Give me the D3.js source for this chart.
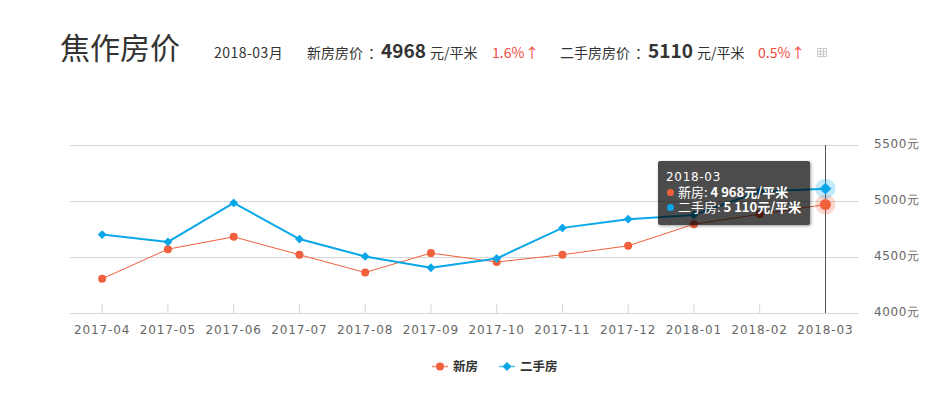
<!DOCTYPE html>
<html>
<head>
<meta charset="utf-8">
<script src="https://cdn.jsdelivr.net/npm/d3@7"></script>
<style>
  html, body { margin: 0; padding: 0; background: #fff; }
  svg { display: block; }
</style>
</head>
<body>
<div id="chart"></div>
<script>
const months = ["2017-04", "2017-05", "2017-06", "2017-07", "2017-08", "2017-09", "2017-10", "2017-11", "2017-12", "2018-01", "2018-02", "2018-03"]
const newHome = [4306, 4570, 4680, 4520, 4362, 4535, 4455, 4520, 4600, 4793, 4882, 4968]
const resale = [4700, 4635, 4983, 4660, 4505, 4404, 4487, 4760, 4838, 4876, 5085, 5110]
const yTicks = [4000, 4500, 5000, 5500]
const seriesNames = ["新房", "二手房"]
const cjk = "'Noto Sans CJK SC', 'Noto Sans', sans-serif"
const latin = "'DejaVu Sans', sans-serif"

const dimensions = { width: 949, height: 400, margin: { top: 145, right: 90, bottom: 87, left: 70 } }
dimensions.boundedWidth = dimensions.width - dimensions.margin.left - dimensions.margin.right
dimensions.boundedHeight = dimensions.height - dimensions.margin.top - dimensions.margin.bottom

const svg = d3.select("#chart").append("svg")
    .attr("width", dimensions.width)
    .attr("height", dimensions.height)

/* Header */
const header = svg.append("g").attr("font-family", cjk).attr("fill", "#333")
const headerText = (x, y, size, text, weight, fill) => header.append("text")
    .attr("x", x).attr("y", y)
    .attr("font-size", size)
    .attr("font-weight", weight || 400)
    .attr("fill", fill || "#333")
    .text(text)

headerText(60, 59, 30, "焦作房价")
headerText(214, 58, 14, "2018-03月").attr("letter-spacing", 0.45)
headerText(307, 58, 14, "新房房价")
headerText(368, 58, 14, "：")
headerText(381, 58, 19, newHome[11], 700)
headerText(430, 58, 14, "元/平米")
headerText(492, 58, 14, "1.6%", 400, "#f0493e")
headerText(525, 58, 14, "↑", 400, "#f0493e")
headerText(560, 58, 14, "二手房房价")
headerText(635, 58, 14, "：")
headerText(648, 58, 19, resale[11], 700)
headerText(697, 58, 14, "元/平米")
headerText(758, 58, 14, "0.5%", 400, "#f0493e")
headerText(791, 58, 14, "↑", 400, "#f0493e")

const icon = header.append("g").attr("transform", "translate(817.5, 48.5)")
    .attr("fill", "none").attr("stroke", "#ccc")
icon.append("rect").attr("width", 9).attr("height", 8)
icon.append("path").attr("d", "M0 3H9M0 5.5H9M3 0V8M6 0V8")

/* Scales */
const bounds = svg.append("g")
    .attr("transform", `translate(${dimensions.margin.left}, ${dimensions.margin.top})`)

const xScale = d3.scaleBand()
    .domain(months)
    .range([-0.7, dimensions.boundedWidth - 0.7])

const yScale = d3.scaleLinear()
    .domain([4000, 5500])
    .range([dimensions.boundedHeight, 0])

const xCenter = d => xScale(d) + xScale.bandwidth() / 2

/* Grid and axes */
bounds.append("g").selectAll("line")
    .data(yTicks)
    .enter().append("line")
    .attr("x1", 0)
    .attr("x2", dimensions.boundedWidth)
    .attr("y1", d => Math.round(yScale(d)) + 0.5)
    .attr("y2", d => Math.round(yScale(d)) + 0.5)
    .attr("stroke", "#d8d8d8")

const xAxis = bounds.append("g")
    .attr("transform", `translate(0, ${dimensions.boundedHeight + 0.5})`)
    .call(d3.axisTop(xScale).tickSize(10).tickPadding(0).tickFormat(""))
xAxis.select(".domain").remove()
xAxis.selectAll("line").attr("stroke", "#d8d8d8")

bounds.append("g").selectAll("text")
    .data(months)
    .enter().append("text")
    .attr("x", xCenter)
    .attr("y", dimensions.boundedHeight + 21)
    .attr("text-anchor", "middle")
    .attr("font-family", latin)
    .attr("font-size", 12)
    .attr("letter-spacing", 0.9)
    .attr("fill", "#666")
    .text(d => d)

bounds.append("g").selectAll("text")
    .data(yTicks)
    .enter().append("text")
    .attr("x", dimensions.boundedWidth + 15)
    .attr("y", d => yScale(d) + 3)
    .attr("font-family", latin)
    .attr("font-size", 12)
    .attr("letter-spacing", 0.6)
    .attr("fill", "#666")
    .text(d => d + "元")

/* Crosshair */
bounds.append("line")
    .attr("x1", Math.round(xCenter(months[11])) + 0.5)
    .attr("x2", Math.round(xCenter(months[11])) + 0.5)
    .attr("y1", 0)
    .attr("y2", dimensions.boundedHeight)
    .attr("stroke", "#555")

/* Lines */
const newColor = "#f0603c"
const resaleColor = "#0aa7e8"
const lineFor = values => d3.line()
    .x((d, i) => xCenter(months[i]))
    .y(d => yScale(d))(values)

bounds.append("path")
    .attr("d", lineFor(newHome))
    .attr("fill", "none")
    .attr("stroke", newColor)
    .attr("stroke-width", 1)

bounds.append("path")
    .attr("d", lineFor(resale))
    .attr("fill", "none")
    .attr("stroke", resaleColor)
    .attr("stroke-width", 2)

const diamond = d3.symbol().type(d3.symbolDiamond2)

bounds.append("g").selectAll("circle")
    .data(newHome.slice(0, 11))
    .enter().append("circle")
    .attr("cx", (d, i) => xCenter(months[i]))
    .attr("cy", d => yScale(d))
    .attr("r", 4)
    .attr("fill", newColor)

bounds.append("g").selectAll("path")
    .data(resale.slice(0, 11))
    .enter().append("path")
    .attr("d", diamond.size(50))
    .attr("transform", (d, i) => `translate(${xCenter(months[i])}, ${yScale(d)})`)
    .attr("fill", resaleColor)

/* Highlighted last points */
const lastX = xCenter(months[11])
bounds.append("circle")
    .attr("cx", lastX).attr("cy", yScale(newHome[11]))
    .attr("r", 10).attr("fill", newColor).attr("opacity", 0.25)
bounds.append("circle")
    .attr("cx", lastX).attr("cy", yScale(newHome[11]))
    .attr("r", 5.5).attr("fill", newColor)
bounds.append("circle")
    .attr("cx", lastX).attr("cy", yScale(resale[11]))
    .attr("r", 10).attr("fill", resaleColor).attr("opacity", 0.25)
bounds.append("path")
    .attr("d", diamond.size(90))
    .attr("transform", `translate(${lastX}, ${yScale(resale[11])})`)
    .attr("fill", resaleColor)

/* Legend */
const legend = svg.append("g").attr("font-family", cjk).attr("font-size", 12.5).attr("font-weight", 700).attr("fill", "#333")
legend.append("line").attr("x1", 432).attr("x2", 448).attr("y1", 366.5).attr("y2", 366.5)
    .attr("stroke", newColor).attr("stroke-opacity", 0.7).attr("stroke-width", 1.5)
legend.append("circle").attr("cx", 440).attr("cy", 366.5).attr("r", 4).attr("fill", newColor)
legend.append("text").attr("x", 453).attr("y", 371).text(seriesNames[0])
legend.append("line").attr("x1", 499).attr("x2", 515).attr("y1", 366.5).attr("y2", 366.5)
    .attr("stroke", resaleColor).attr("stroke-opacity", 0.7).attr("stroke-width", 1.5)
legend.append("path").attr("d", diamond.size(50)).attr("transform", "translate(507, 366.5)").attr("fill", resaleColor)
legend.append("text").attr("x", 520).attr("y", 371).text(seriesNames[1])

/* Tooltip, the shadow is cut out under the box so the see-through fill stays light */
const defs = svg.append("defs")
const shadow = defs.append("filter").attr("id", "tipShadow")
    .attr("x", "-10%").attr("y", "-10%").attr("width", "120%").attr("height", "120%")
shadow.append("feGaussianBlur").attr("in", "SourceAlpha").attr("stdDeviation", 1.5).attr("result", "blur")
shadow.append("feOffset").attr("in", "blur").attr("dx", 1).attr("dy", 1).attr("result", "moved")
shadow.append("feFlood").attr("flood-color", "#000").attr("flood-opacity", 0.4).attr("result", "tint")
shadow.append("feComposite").attr("in", "tint").attr("in2", "moved").attr("operator", "in").attr("result", "soft")
shadow.append("feComposite").attr("in", "soft").attr("in2", "SourceAlpha").attr("operator", "out")

const tip = svg.append("g").attr("transform", "translate(658, 161)")
tip.append("rect")
    .attr("width", 152)
    .attr("height", 64)
    .attr("rx", 2)
    .attr("fill", "#000")
    .attr("filter", "url(#tipShadow)")
tip.append("rect")
    .attr("width", 152)
    .attr("height", 64)
    .attr("rx", 2)
    .attr("fill", "rgba(0, 0, 0, 0.7)")
tip.append("text").attr("x", 8).attr("y", 20)
    .attr("font-family", latin).attr("font-size", 12).attr("letter-spacing", 0.7)
    .attr("fill", "#fff").text(months[11])

const thousands = d => String(d).replace(/(\d)(\d{3})$/, "$1 $2")
const tipRow = (y, color, name, value) => {
  tip.append("circle").attr("cx", 12.5).attr("cy", y - 4.5).attr("r", 3.5).attr("fill", color)
  const text = tip.append("text").attr("x", 20).attr("y", y)
      .attr("font-family", cjk).attr("font-size", 13).attr("fill", "#fff")
  text.append("tspan").text(name + ": ")
  text.append("tspan").attr("font-weight", 700).text(thousands(value) + "元/平米")
}
tipRow(36, newColor, seriesNames[0], newHome[11])
tipRow(51, resaleColor, seriesNames[1], resale[11])
</script>
</body>
</html>
